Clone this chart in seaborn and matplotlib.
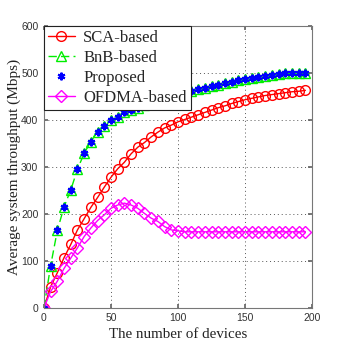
import numpy as np
import pandas as pd
import matplotlib
matplotlib.use("Agg")
import matplotlib.pyplot as plt
import seaborn as sns

devices = list(range(0, 200, 5))
sca = [0, 45, 75, 107, 135, 166, 190, 214, 235, 257, 278, 296, 310, 328, 342, 352,
       364, 374, 383, 389, 396, 401, 406, 411, 416, 421, 426, 430, 435, 439, 443,
       446, 449, 452, 454, 456, 458, 460, 461, 463]
bnb = [0, 90, 165, 215, 251, 295, 329, 354, 375, 387, 399, 407, 416, 421, 426, 431,
       436, 441, 446, 450, 454, 458, 462, 465, 469, 472, 475, 478, 481, 484, 487,
       490, 492, 494, 496, 498, 499, 500, 500, 500]
proposed = list(bnb)
ofdma = [0, 35, 57, 84, 106, 128, 152, 170, 186, 198, 212, 219, 223, 219, 212, 201,
         191, 184, 173, 166, 164, 162, 162, 162, 162, 162, 162, 162, 162, 162, 162,
         162, 162, 162, 162, 162, 162, 162, 162, 162]
labels = ["SCA-based", "BnB-based", "Proposed", "OFDMA-based"]

sns.set_theme(style="white")
plt.rcParams['font.family'] = ['Liberation Serif', 'DejaVu Serif']

fig = plt.figure(figsize=(3.46, 3.46), dpi=100)
ax = fig.add_axes([0.127, 0.110, 0.775, 0.815])

x = np.array(devices)
sns.lineplot(x=x, y=sca, ax=ax, color="#ff0000", lw=1.0, marker="o", markersize=7,
             markerfacecolor="none", markeredgecolor="#ff0000", markeredgewidth=1.0,
             label=labels[0])
sns.lineplot(x=x, y=bnb, ax=ax, color="#00ee00", lw=1.0, marker="^", markersize=7,
             markerfacecolor="none", markeredgecolor="#00ee00", markeredgewidth=1.0,
             dashes=(6, 3), label=labels[1])
sns.lineplot(x=x, y=proposed, ax=ax, color="#0000ff", lw=0, marker=(6, 2, 0), markersize=5.5,
             markeredgecolor="#0000ff", markeredgewidth=1.5, label=labels[2])
sns.lineplot(x=x, y=ofdma, ax=ax, color="#ff00ff", lw=1.0, marker="D", markersize=6,
             markerfacecolor="none", markeredgecolor="#ff00ff", markeredgewidth=1.0,
             label=labels[3])

ax.set_xlim(0, 200)
ax.set_ylim(0, 600)
ax.set_xticks([0, 50, 100, 150, 200])
ax.set_yticks([0, 100, 200, 300, 400, 500, 600])
ax.grid(True, linestyle=(0, (1, 3)), color="#555555", lw=0.7)
ax.tick_params(direction="in", length=3, color="#666666", labelsize=7.5, pad=4,
               top=True, right=True, bottom=True, left=True)
for lab in ax.get_xticklabels() + ax.get_yticklabels():
    lab.set_family(['Liberation Sans', 'DejaVu Sans'])
    lab.set_color("#333333")
for s in ax.spines.values():
    s.set_color("#777777")
    s.set_linewidth(0.8)
ax.set_xlabel("The number of devices", fontsize=10.8, labelpad=3, color="#222222")
ax.set_ylabel("Average system throughput (Mbps)", fontsize=11, labelpad=0, color="#222222")

leg = ax.legend(loc="upper left", fontsize=12, frameon=True, fancybox=False,
                borderaxespad=0, handlelength=1.6, borderpad=0.25, labelspacing=0.24,
                handletextpad=0.5, framealpha=1)
leg.get_frame().set_edgecolor("#222222")
leg.get_frame().set_linewidth(0.8)

fig.savefig("out.png", dpi=100)
